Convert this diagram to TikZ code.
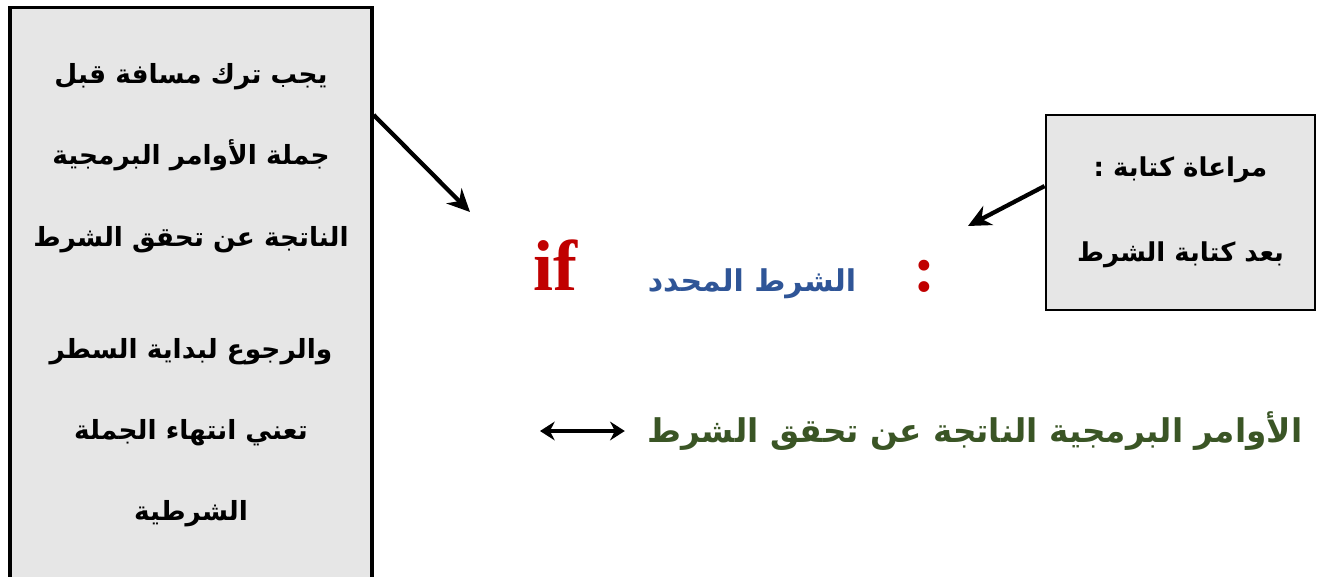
\documentclass[tikz,border=0pt]{standalone}
\usepackage{fontspec}
\setmainfont{Liberation Serif}
\newfontfamily\arabicfont[Script=Arabic]{DejaVu Sans}
\TeXXeTstate=1
\usepackage{tikz}
\usetikzlibrary{arrows.meta, positioning, calc}
\definecolor{if_red}{HTML}{C00000}
\definecolor{cond_blue}{HTML}{2F5597}
\definecolor{cmd_green}{HTML}{3A5525}
\definecolor{box_gray}{HTML}{E6E6E6}
\newcommand{\artext}[1]{\beginR #1\endR}
\tikzset{
  note_box/.style={rectangle, draw=black, fill=box_gray, line width=2.6pt, align=center, inner sep=0pt, font=\arabicfont\bfseries\fontsize{19.8}{61}\selectfont},
  arrow/.style={-{Stealth[length=17pt, width=16pt]}, line width=3.2pt, black},
  dbl_arrow/.style={{Stealth[length=11pt, width=14pt]}-{Stealth[length=11pt, width=14pt]}, line width=3pt, black},
  if_word/.style={text=if_red, inner sep=0pt, font=\bfseries\fontsize{54}{54}\selectfont},
  cond_text/.style={text=cond_blue, inner sep=0pt, font=\arabicfont\bfseries\fontsize{22.5}{22.5}\selectfont},
  colon_mark/.style={text=if_red, inner sep=0pt, font=\bfseries\fontsize{50}{50}\selectfont},
  cmd_text/.style={text=cmd_green, inner sep=0pt, font=\arabicfont\bfseries\fontsize{24.5}{24.5}\selectfont}
}

\begin{document}
\begin{tikzpicture}[x=0.75pt, y=-0.75pt]
    % 1. Page frame
    \useasboundingbox (0,0) rectangle (1319,577);

    % 2. The two note boxes (left one runs past the bottom edge)
    \node[note_box, minimum width=271.5pt, minimum height=445pt] (spaceNote) at (191,304) {
        \artext{يجب ترك مسافة قبل}\\
        \artext{جملة الأوامر البرمجية}\\
        \artext{الناتجة عن تحقق الشرط}\\[23pt]
        \artext{والرجوع لبداية السطر}\\
        \artext{تعني انتهاء الجملة}\\
        \artext{الشرطية}\\[-43pt]
        \mbox{}
    };
    \node[note_box, line width=2.2pt, minimum width=201.75pt, minimum height=146.25pt, font=\arabicfont\bfseries\fontsize{19.5}{64}\selectfont] (condNote) at (1180.5,212.5) {
        \artext{مراعاة كتابة :}\\
        \artext{بعد كتابة الشرط}
    };

    % 3. The if line
    \node[if_word, anchor=base] (ifWord) at (555,290) {if};
    \node[cond_text] (condText) at (752,284) {\artext{الشرط المحدد}};
    \node[colon_mark] (colonMark) at (925,276) {:};

    % 4. The commands line
    \node[cmd_text] (cmdText) at (975,431) {\artext{الأوامر البرمجية الناتجة عن تحقق الشرط}};

    % 5. Arrows
    \coordinate (ifPoint) at (470,212);
    \coordinate (colonPoint) at (968,226);
    \coordinate (dblStart) at (540,431);
    \draw[arrow] (spaceNote.east |- 0,115) -- (ifPoint);
    \draw[arrow] (condNote.169) -- (colonPoint);
    \draw[dbl_arrow] (dblStart) -- (cmdText.west) [shorten >=17pt];
\end{tikzpicture}
\end{document}
